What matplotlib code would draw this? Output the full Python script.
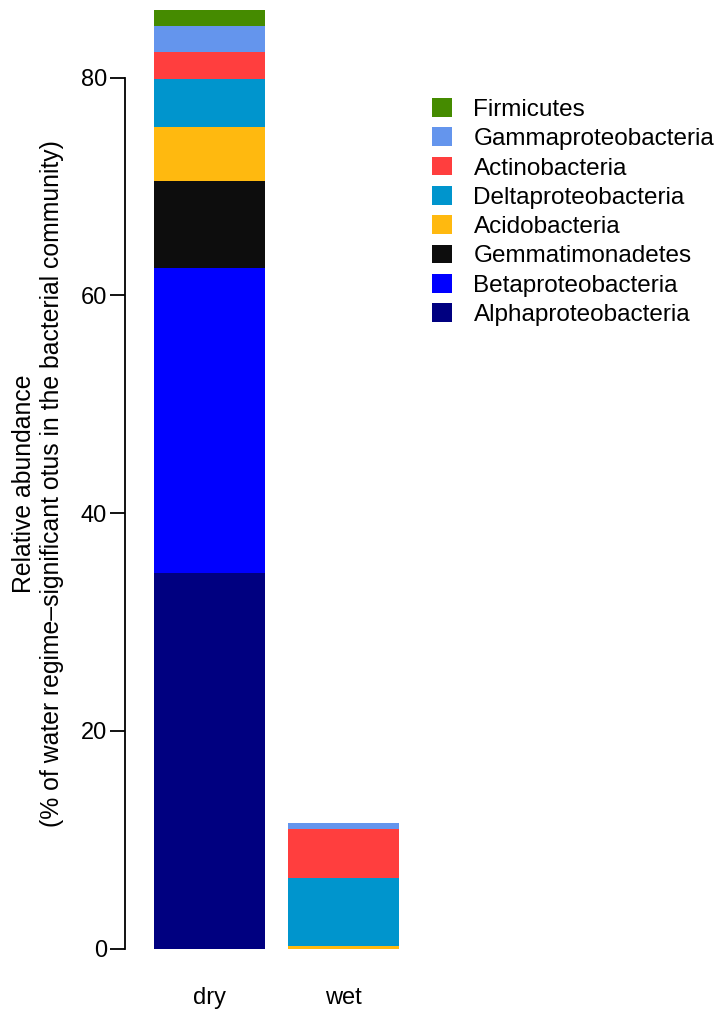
import numpy as np
import matplotlib
matplotlib.use("Agg")
from matplotlib import pyplot as plt
from matplotlib.patches import Patch

# stacked relative abundance, dry vs wet
groups = ["dry", "wet"]
phyla = ["Alphaproteobacteria", "Betaproteobacteria", "Gemmatimonadetes",
         "Acidobacteria", "Deltaproteobacteria", "Actinobacteria",
         "Gammaproteobacteria", "Firmicutes"]
dry_values = [34.5, 28.0, 8.0, 4.95, 4.4, 2.55, 2.35, 1.45]
wet_values = [0.0, 0.0, 0.0, 0.25, 6.25, 4.45, 0.6, 0.0]
colors = ["#000080", "#0000FF", "#0D0D0D", "#FFB90F",
          "#0095CD", "#FF3E3E", "#6495ED", "#458B00"]

plt.rcParams["font.family"] = ["Liberation Sans", "DejaVu Sans"]

W, H = 722, 1018
fig = plt.figure(figsize=(W / 100, H / 100), dpi=100)

# axes geometry in pixels (R-like plot region)
px_per_unit_y = 10.885
y_zero = 948.5
ybot, ytop = -3.45, y_zero / px_per_unit_y
ax_bottom_px = y_zero + 3.45 * px_per_unit_y
ax_left_px = 125
ax = fig.add_axes([ax_left_px / W, (H - ax_bottom_px) / H,
                   (W - ax_left_px) / W, ax_bottom_px / H])

px_per_unit_x = 111.25
x0 = 0.2 - (154 - ax_left_px) / px_per_unit_x
x1 = x0 + (W - ax_left_px) / px_per_unit_x
ax.set_xlim(x0, x1)
ax.set_ylim(ybot, ytop)

xpos = np.array([0.7, 1.9])
data = np.array([dry_values, wet_values])
bottom = np.zeros(len(groups))
for i, name in enumerate(phyla):
    vals = data[:, i]
    ax.bar(xpos, vals, width=1.0, bottom=bottom, color=colors[i],
           edgecolor="none", linewidth=0)
    bottom += vals

for s in ["top", "right", "bottom"]:
    ax.spines[s].set_visible(False)
ax.spines["left"].set_bounds(0, 80)
ax.spines["left"].set_linewidth(1.3)
ax.set_yticks([0, 20, 40, 60, 80])
ax.tick_params(axis="y", length=10.8, width=1.3, labelsize=17, pad=2.2)
ax.set_xticks(xpos)
ax.set_xticklabels(groups)
ax.tick_params(axis="x", length=0, labelsize=17, pad=1)

fig.text(38 / W, 1 - 484 / H,
         "Relative abundance\n(% of water regime\u2013significant otus in the bacterial community)",
         rotation=90, ha="center", va="center", multialignment="center",
         fontsize=17.8, linespacing=1.25)

handles = [Patch(facecolor=colors[i], edgecolor="none", label=phyla[i])
           for i in range(len(phyla) - 1, -1, -1)]
ax.legend(handles=handles, loc="upper left", bbox_to_anchor=(420 / W, 1 - 86 / H),
          bbox_transform=fig.transFigure, frameon=False, fontsize=17.5,
          handlelength=0.8, handleheight=0.8, handletextpad=0.9,
          labelspacing=0.27, borderpad=0)

fig.savefig("out.png", dpi=100)
